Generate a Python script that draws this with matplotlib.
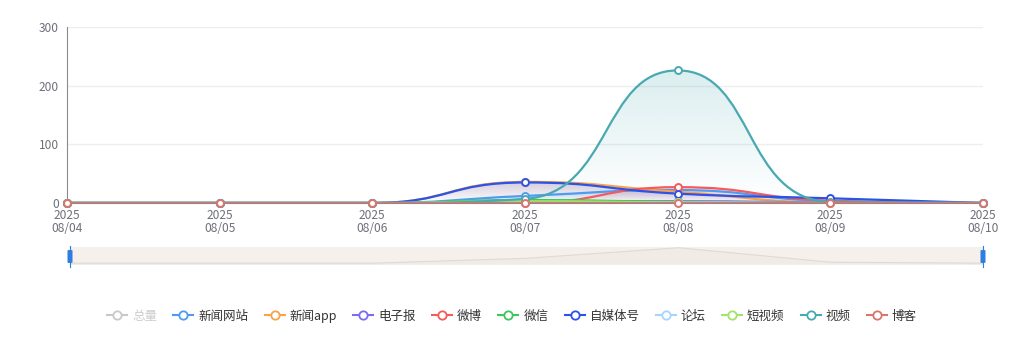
import numpy as np
import matplotlib
matplotlib.use('Agg')
import matplotlib.pyplot as plt
from matplotlib.path import Path
from matplotlib.patches import PathPatch, FancyBboxPatch
from matplotlib.lines import Line2D
from matplotlib.colors import to_rgb

plt.rcParams['font.family'] = ['Noto Sans CJK SC', 'DejaVu Sans']

dates = ['2025\n08/04', '2025\n08/05', '2025\n08/06', '2025\n08/07',
         '2025\n08/08', '2025\n08/09', '2025\n08/10']

names = ['总量', '新闻网站', '新闻app', '电子报', '微博', '微信',
         '自媒体号', '论坛', '短视频', '视频', '博客']
colors = ['#c8c8c8', '#4d9cf2', '#f8a24c', '#7b6cf0', '#f55a5c', '#3ec55e',
          '#2d52e6', '#a9d3ff', '#a4e26a', '#48a9b1', '#d9746f']

news_site = [0, 0, 0, 12, 22, 3, 0]
news_app = [0, 0, 0, 36, 19, 1, 0]
epaper = [0, 0, 0, 1, 3, 1, 0]
weibo = [0, 0, 0, 0, 27, 4, 0]
wechat = [0, 0, 0, 5, 2, 0, 0]
we_media = [0, 0, 0, 35, 16, 8, 0]
forum = [0, 0, 0, 1, 1, 0, 0]
short_video = [0, 0, 0, 3, 1, 0, 0]
video = [0, 0, 0, 7, 226, 2, 0]
blog = [0, 0, 0, 0, 0, 0, 0]

series = [news_site, news_app, epaper, weibo, wechat, we_media,
          forum, short_video, video, blog]
total = np.sum(series, axis=0)

# pixel scale of the plot area, used for echarts-like smoothing
SX = 916 / 6.0
SY = 176 / 300.0


def smooth_path(xs, ys, s=0.5):
    P = np.column_stack([np.asarray(xs, float) * SX, np.asarray(ys, float) * SY])
    n = len(P)
    cin = [None] * n
    cout = [None] * n
    cout[0] = P[0]
    cin[-1] = P[-1]
    for i in range(1, n - 1):
        px, py = P[i - 1]
        x, y = P[i]
        nx, ny = P[i + 1]
        vx, vy = nx - px, ny - py
        l0 = np.hypot(x - px, y - py)
        l1 = np.hypot(nx - x, ny - y)
        r = l1 / (l0 + l1)
        ncx = x + vx * s * r
        ncy = y + vy * s * r
        ncx = min(ncx, max(nx, x)); ncy = min(ncy, max(ny, y))
        ncx = max(ncx, min(nx, x)); ncy = max(ncy, min(ny, y))
        vx, vy = ncx - x, ncy - y
        c1x = x - vx * l0 / l1
        c1y = y - vy * l0 / l1
        c1x = min(c1x, max(px, x)); c1y = min(c1y, max(py, y))
        c1x = max(c1x, min(px, x)); c1y = max(c1y, min(py, y))
        vx, vy = x - c1x, y - c1y
        ncx = x + vx * l1 / l0
        ncy = y + vy * l1 / l0
        cin[i] = np.array([c1x, c1y])
        cout[i] = np.array([ncx, ncy])
    verts = [P[0]]
    codes = [Path.MOVETO]
    for i in range(1, n):
        verts += [cout[i - 1], cin[i], P[i]]
        codes += [Path.CURVE4] * 3
    verts = np.array(verts) / np.array([SX, SY])
    return verts, codes


fig = plt.figure(figsize=(10.24, 3.4), dpi=100)
ax = fig.add_axes([67 / 1024, 137 / 340, 916 / 1024, 176 / 340])
x = np.arange(len(dates))

for vals, c in zip(series, colors[1:]):
    verts, codes = smooth_path(x, vals)
    ln_path = Path(verts, codes)
    ymax = max(vals)
    if ymax > 0:
        area_verts = np.vstack([verts, [[x[-1], 0], [x[0], 0], verts[0]]])
        area_codes = codes + [Path.LINETO, Path.LINETO, Path.CLOSEPOLY]
        patch = PathPatch(Path(area_verts, area_codes), facecolor='none',
                          edgecolor='none', transform=ax.transData)
        ax.add_patch(patch)
        grad = np.zeros((100, 1, 4))
        grad[:, 0, :3] = to_rgb(c)
        grad[:, 0, 3] = np.linspace(0.2, 0.0, 100)
        im = ax.imshow(grad, extent=[x[0], x[-1], 0, ymax], aspect='auto',
                       origin='upper', zorder=1, interpolation='bilinear')
        im.set_clip_path(patch)
    ax.add_patch(PathPatch(ln_path, facecolor='none', edgecolor=c, lw=1.6,
                           zorder=3))
    ax.plot(x, vals, 'o', ms=5, mfc='white', mec=c, mew=1.4, zorder=4,
            clip_on=False)

ax.set_xlim(0, 6)
ax.set_ylim(0, 300)
ax.set_yticks([0, 100, 200, 300])
ax.set_xticks(x)
ax.set_xticklabels(dates, linespacing=1.0)
ax.grid(axis='y', color='#eeeeee', lw=1)
ax.set_axisbelow(True)
for sp in ['top', 'right']:
    ax.spines[sp].set_visible(False)
ax.spines['left'].set_color('#8a8a8a')
ax.spines['bottom'].set_color('#8a8a8a')
ax.tick_params(axis='both', length=0, labelsize=8.6, colors='#6e7079')
ax.tick_params(axis='y', pad=6)
ax.tick_params(axis='x', pad=4.5)

# data zoom slider
sl = fig.add_axes([70 / 1024, 75 / 340, 913 / 1024, 18 / 340])
sl.set_facecolor('#f5f0eb')
sl.plot(x, total, color='#e0dad4', lw=0.8)
sl.fill_between(x, total, color='#f1ebe6')
sl.set_xlim(0, 6)
sl.set_ylim(-max(total) * 0.12, max(total) * 1.05)
sl.set_xticks([])
sl.set_yticks([])
for sp in sl.spines.values():
    sp.set_visible(False)
for hx in [70, 983]:
    fig.add_artist(Line2D([hx / 1024, hx / 1024], [73 / 340, 94 / 340],
                          color='#2f7de1', lw=0.8))
    fig.add_artist(FancyBboxPatch(((hx - 2.5) / 1024, 77 / 340), 5 / 1024, 13 / 340,
                                  boxstyle='round,pad=0,rounding_size=0.002',
                                  facecolor='#2f7de1', edgecolor='none'))

# legend
handles = [Line2D([], [], color=c, lw=1.5, marker='o', ms=6, mfc='white',
                  mec=c, mew=1.3) for c in colors]
leg = fig.legend(handles, names, loc='center', bbox_to_anchor=(0.5, 24 / 340),
                 ncol=len(names), frameon=False, fontsize=9, handlelength=1.6,
                 handletextpad=0.4, columnspacing=1.3)
for i, t in enumerate(leg.get_texts()):
    t.set_color('#cccccc' if i == 0 else '#333333')

fig.savefig('out.png', dpi=100)
